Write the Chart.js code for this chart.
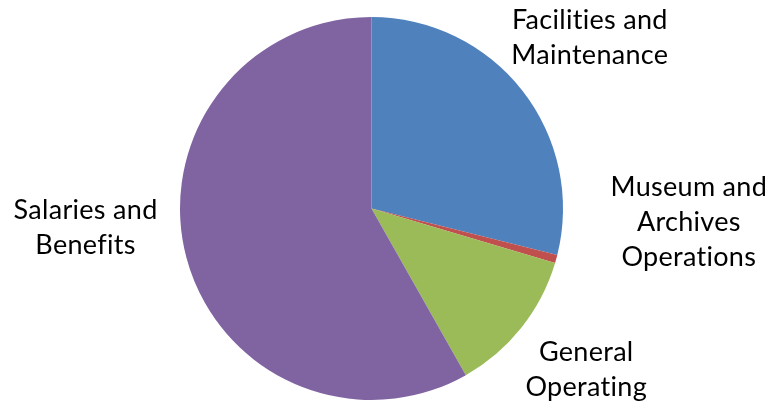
<!DOCTYPE html>
<html>
<head>
<meta charset="utf-8">
<script src="https://cdn.jsdelivr.net/npm/chart.js@4/dist/chart.umd.min.js"></script>
<style>
  html, body { margin: 0; padding: 0; background: #fff; }
  #wrap { width: 771px; height: 406px; position: relative; }
</style>
</head>
<body>
<div id="wrap"><canvas id="pie"></canvas></div>
<script>
// Budget share by category (percent of the pie)
const categories = [
  ['Facilities and', 'Maintenance'],
  ['Museum and', 'Archives', 'Operations'],
  ['General', 'Operating'],
  ['Salaries and', 'Benefits']
]
const shares = [28.9, 0.7, 12.2, 58.2]
const sliceColors = ['#4F81BD', '#C0504D', '#9BBB59', '#8064A2']

// small hand nudges for the outside labels (px), like the Excel best-fit layout
const labelNudge = [[-15, -15], [32, -57], [-3, 4], [-6, -45]]

const labelFont = '27px Lato'
const lineHeight = 35

// Draw category names outside each slice
const outsideLabels = {
  id: 'outsideLabels',
  afterDatasetsDraw(chart) {
    const ctx = chart.ctx
    const arcs = chart.getDatasetMeta(0).data
    ctx.save()
    ctx.font = labelFont
    // a little spacing also stops Lato's "ti" ligature
    ctx.letterSpacing = '0.3px'
    ctx.fillStyle = '#000'
    ctx.textAlign = 'center'
    ctx.textBaseline = 'middle'
    arcs.forEach((arc, i) => {
      const lines = chart.data.labels[i]
      const mid = (arc.startAngle + arc.endAngle) / 2
      const dx = Math.cos(mid)
      const dy = Math.sin(mid)
      const dist = arc.outerRadius + 26
      const w = Math.max(...lines.map(l => ctx.measureText(l).width))
      const h = lines.length * lineHeight
      const cx = arc.x + dx * dist + dx * w / 2 + labelNudge[i][0]
      const cy = arc.y + dy * dist + dy * h / 2 + labelNudge[i][1]
      lines.forEach((line, j) => {
        ctx.fillText(line, cx, cy - h / 2 + lineHeight * (j + 0.5))
      })
    })
    ctx.restore()
  }
}

new Chart(document.getElementById('pie'), {
  type: 'pie',
  data: {
    labels: categories,
    datasets: [{
      data: shares,
      backgroundColor: sliceColors,
      borderWidth: 0
    }]
  },
  options: {
    responsive: true,
    maintainAspectRatio: false,
    animation: false,
    layout: {
      padding: { top: 17, bottom: 6, left: 180, right: 208 }
    },
    plugins: {
      legend: { display: false },
      tooltip: { enabled: false }
    }
  },
  plugins: [outsideLabels]
})
</script>
</body>
</html>
